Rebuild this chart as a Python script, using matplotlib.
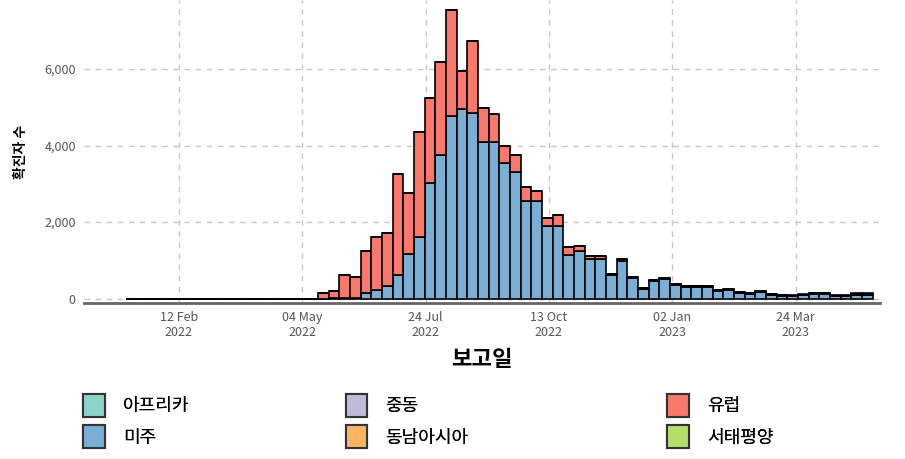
import datetime as dt
import matplotlib
matplotlib.use("Agg")
import matplotlib.pyplot as plt
import matplotlib.dates as mdates
from matplotlib.patches import Patch
import numpy as np

plt.rcParams['font.family'] = ['Noto Sans CJK KR', 'DejaVu Sans']

# weekly report dates (bar centres)
first_week = dt.date(2022, 1, 12)
n_zero_weeks = 18

# weekly cases by region, from 18 May 2022
americas = [0, 10, 25, 30, 150, 230, 340, 626, 1170, 1600, 3030, 3760, 4760, 4950,
            4850, 4100, 4100, 3550, 3320, 2540, 2540, 1900, 1900, 1150, 1235, 1035,
            1035, 610, 990, 540, 265, 450, 510, 365, 305, 305, 305, 195, 235, 145,
            130, 175, 110, 80, 65, 90, 125, 125, 65, 65, 110, 110]
europe = [150, 180, 600, 536, 1085, 1380, 1375, 2634, 1590, 2760, 2220, 2430, 2770,
          1000, 1890, 890, 730, 440, 440, 390, 260, 200, 290, 200, 130, 85, 70, 40,
          45, 30, 25, 30, 30, 25, 25, 25, 25, 20, 25, 20, 20, 25, 20, 15, 15, 20,
          25, 25, 15, 15, 20, 20]
n_weeks = len(americas)
africa = [0] * n_weeks
middle_east = [0] * n_weeks
se_asia = [0] * n_weeks
w_pacific = [0] * 39 + [5, 5, 10, 5, 5, 5, 10, 10, 10, 5, 5, 10, 10]

regions = ["미주", "유럽", "아프리카", "중동", "동남아시아", "서태평양"]
series = [americas, europe, africa, middle_east, se_asia, w_pacific]
colors = {"아프리카": "#8DD3C7", "미주": "#7BAED5", "중동": "#BEBADA",
          "유럽": "#F8786C", "동남아시아": "#FDB462", "서태평양": "#B3DE69"}

xtick_dates = [dt.date(2022, 2, 12), dt.date(2022, 5, 4), dt.date(2022, 7, 24),
               dt.date(2022, 10, 13), dt.date(2023, 1, 2), dt.date(2023, 3, 24)]
yticks = [0, 2000, 4000, 6000]

weeks = [first_week + dt.timedelta(days=7 * i) for i in range(n_zero_weeks + n_weeks)]
x = mdates.date2num(weeks)

fig = plt.figure(figsize=(9.05, 4.59), dpi=100)
ax = fig.add_axes([0.093, 0.34, 0.879, 0.66])

bottom = np.zeros(len(weeks))
for name, vals in zip(regions, series):
    h = np.concatenate([np.zeros(n_zero_weeks), np.array(vals, float)])
    ax.bar(x, h, width=7, bottom=bottom, color=colors[name], edgecolor="black",
           linewidth=1.2, zorder=3)
    bottom += h

ax.set_xlim(mdates.date2num(dt.date(2021, 12, 12)), mdates.date2num(dt.date(2023, 5, 18)))
ax.set_ylim(-110, 7800)
ax.set_xticks(mdates.date2num(xtick_dates))
ax.set_xticklabels([d.strftime("%d %b\n%Y") for d in xtick_dates])
ax.set_yticks(yticks)
ax.set_yticklabels([f"{v:,}" for v in yticks])
ax.tick_params(length=0, labelsize=9, colors="#555555", pad=6)
ax.grid(True, color="#C8C8C8", linestyle=(0, (4, 4)), linewidth=1, zorder=0)
for s in ["top", "right", "left"]:
    ax.spines[s].set_visible(False)
ax.spines["bottom"].set_color("#666666")
ax.spines["bottom"].set_linewidth(2)

ax.set_ylabel("확진자 수", fontsize=10, fontweight="bold", labelpad=12)
ax.set_xlabel("보고일", fontsize=16, fontweight="bold", labelpad=6)

legend_cols = [["아프리카", "미주"], ["중동", "동남아시아"], ["유럽", "서태평양"]]
col_x = [0.092, 0.382, 0.737]
for names, lx in zip(legend_cols, col_x):
    handles = [Patch(facecolor=colors[n], edgecolor="#333333", linewidth=1.5) for n in names]
    leg = fig.legend(handles, names, loc="upper left", bbox_to_anchor=(lx, 0.142),
                     frameon=False, fontsize=13, handlelength=1.2, handleheight=1.6,
                     handletextpad=1.0, labelspacing=0.45, borderaxespad=0,
                     borderpad=0)
    fig.add_artist(leg)

fig.savefig("out.png", dpi=100)
